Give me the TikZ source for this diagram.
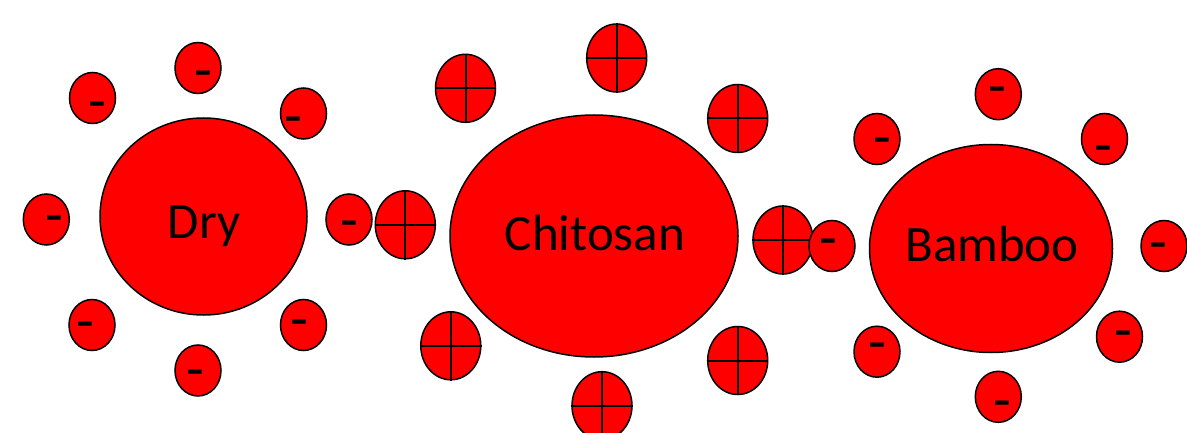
\documentclass[tikz,border=0pt]{standalone}
\usepackage{fontspec}
\setmainfont{Carlito}
\usetikzlibrary{shapes.geometric}
\tikzset{
  core/.style={ellipse, draw, fill=red, line width=1.5pt, inner sep=0pt},
  coretext/.style={anchor=base, inner sep=0pt, font=\fontsize{51}{60}\selectfont},
  negion/.style={ellipse, draw, fill=red, line width=1.5pt, inner sep=0pt,
              minimum width=46pt, minimum height=51pt},
  posion/.style={ellipse, draw, fill=red, line width=1.5pt, inner sep=0pt,
              minimum width=60pt, minimum height=68pt},
  sign/.style={inner sep=0pt, yshift=-7.5pt, font=\fontsize{58}{58}\selectfont},
  crossline/.style={line width=2pt}
}

\begin{document}
\begin{tikzpicture}[x=1pt, y=-1pt]
    \clip (0,0) rectangle (1187,433);

    % Dry
    \node[core, minimum width=207pt, minimum height=197pt] (dry) at (203.5,216.5) {};
    \node[coretext] (drytxt) at (204,239) {Dry};
    \foreach \n/\x/\y/\sx/\sy in {d1/198/68/203/73, d2/92.5/98/97/104, d3/303.5/113.5/293/119,
        d4/46.3/219.5/54/218, d5/349/219.5/349/222.7, d6/92/325/85/324,
        d7/303.5/325/299/322, d8/198/370.5/195/372} {
      \node[negion] (\n) at (\x,\y) {};
      \node[sign] (\n m) at (\sx,\sy) {-};
    }

    % Chitosan
    \node[core, minimum width=288pt, minimum height=242pt] (chitosan) at (594,236) {};
    \node[coretext] (chitosantxt) at (595,250) {Chitosan};
    \foreach \n/\x/\y in {c1/616.7/58, c2/465.5/88.3, c3/737.7/118.5, c4/405.3/224.8,
        c5/783/240, c6/450.8/345.8, c7/737.7/360.5, c8/602/405.7} {
      \node[posion] (\n) at (\x,\y) {};
      \draw[crossline] (\n.north) -- (\n.south) (\n.west) -- (\n.east);
    }

    % Bamboo
    \node[core, minimum width=243pt, minimum height=208pt] (bamboo) at (991,248.5) {};
    \node[coretext] (bambootxt) at (992,261.7) {Bamboo};
    \foreach \n/\x/\y/\sx/\sy in {b1/998.3/94.2/997/89, b2/877/139/882/140, b3/1104.5/139/1103/148,
        b4/832/246/828/241, b5/1164/246/1158/245, b6/877/351.7/877/345,
        b7/1119.5/336.7/1123/333, b8/998.3/396.8/1002/403} {
      \node[negion] (\n) at (\x,\y) {};
      \node[sign] (\n m) at (\sx,\sy) {-};
    }
\end{tikzpicture}
\end{document}
